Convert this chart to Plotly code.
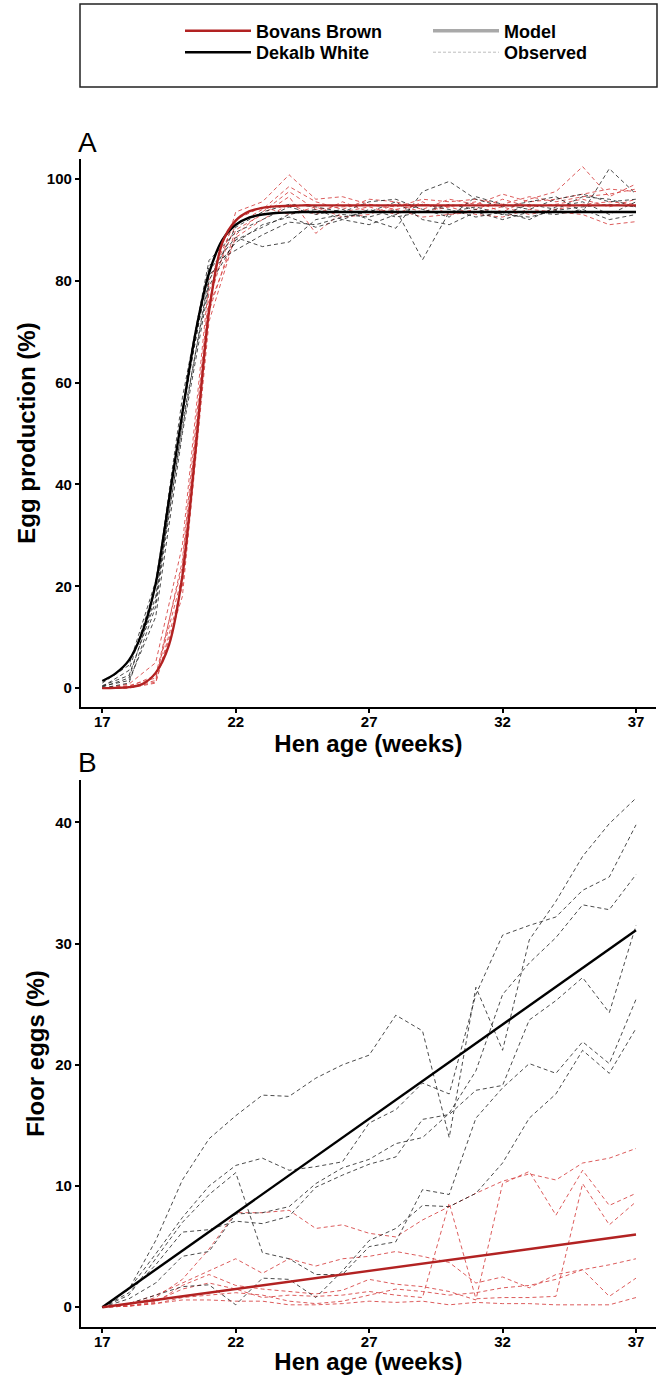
import plotly.graph_objects as go

# ---------------- data ----------------
weeks = [17, 18, 19, 20, 21, 22, 23, 24, 25, 26, 27, 28, 29, 30, 31, 32, 33, 34, 35, 36, 37]

model_weeks = [17.0, 17.5, 18.0, 18.5, 19.0, 19.5, 20.0, 20.5, 21.0, 21.5, 22.0, 22.5, 23.0, 23.5,
               24.0, 24.5, 25.0, 25.5, 26.0, 26.5, 27.0, 27.5, 28.0, 28.5, 29.0, 29.5, 30.0, 30.5,
               31.0, 31.5, 32.0, 32.5, 33.0, 33.5, 34.0, 34.5, 35.0, 35.5, 36.0, 36.5, 37.0]

# Panel A model curves (egg production, %)
egg_model_bovans = [0.0, 0.05, 0.2, 0.8, 3.0, 8.5, 22.0, 47.0, 74.0, 87.5, 91.8, 93.6, 94.3, 94.6,
                    94.7, 94.8, 94.8, 94.8, 94.8, 94.8, 94.8, 94.8, 94.8, 94.8, 94.8, 94.8, 94.8, 94.8,
                    94.8, 94.8, 94.8, 94.8, 94.8, 94.8, 94.8, 94.8, 94.8, 94.8, 94.8, 94.8, 94.8]
egg_model_dekalb = [1.4, 2.9, 5.5, 11.0, 20.5, 37.0, 54.0, 70.0, 81.5, 88.0, 91.0, 92.4, 93.0, 93.3,
                    93.4, 93.5, 93.5, 93.5, 93.5, 93.5, 93.5, 93.5, 93.5, 93.5, 93.5, 93.5, 93.5, 93.5,
                    93.5, 93.5, 93.5, 93.5, 93.5, 93.5, 93.5, 93.5, 93.5, 93.5, 93.5, 93.5, 93.5]

# Panel A observed pens
egg_obs_bovans = [
    [0, 0.5, 2.0, 22, 76, 93.5, 95.5, 100.8, 96.0, 96.5, 95.0, 94.0, 95.0, 94.5, 95.5, 93.5, 96.0, 97.5, 102.4, 96.5, 99.0],
    [0, 0.2, 1.5, 25, 78, 91.0, 94.0, 98.5, 95.5, 94.0, 96.0, 95.5, 94.0, 96.0, 95.0, 97.0, 95.5, 96.0, 97.0, 98.0, 97.5],
    [0, 0.0, 1.0, 20, 74, 90.0, 93.0, 96.5, 89.3, 93.5, 94.5, 93.0, 95.5, 93.0, 94.0, 96.0, 94.5, 95.0, 96.0, 94.5, 96.0],
    [0, 0.8, 5.0, 28, 80, 92.0, 94.5, 93.0, 94.5, 92.5, 93.0, 95.0, 93.5, 94.5, 93.0, 92.5, 94.0, 93.5, 93.0, 91.0, 91.6],
    [0, 0.3, 2.5, 24, 75, 88.5, 92.0, 95.0, 93.0, 95.5, 93.5, 94.0, 92.5, 93.0, 93.5, 94.5, 93.0, 94.0, 95.0, 95.5, 95.0],
    [0, 0.1, 1.2, 18, 72, 89.0, 93.5, 97.5, 94.0, 94.5, 95.0, 94.5, 96.0, 95.5, 96.0, 95.0, 96.5, 95.5, 96.5, 97.0, 98.0],
]
egg_obs_dekalb = [
    [0.5, 2.5, 17, 55, 82, 88.5, 86.7, 87.6, 92.0, 93.0, 92.5, 94.0, 84.1, 93.5, 94.5, 93.0, 92.5, 93.8, 94.5, 95.0, 94.5],
    [0.3, 3.5, 20, 57, 84, 89.5, 92.0, 94.5, 93.0, 94.0, 92.0, 90.3, 97.5, 99.5, 96.0, 94.5, 95.5, 96.5, 93.5, 102.0, 97.0],
    [0.0, 1.0, 16, 52, 80, 90.5, 93.5, 95.0, 94.5, 93.5, 95.5, 96.0, 94.0, 92.5, 96.5, 95.0, 94.0, 96.0, 97.0, 95.5, 96.0],
    [1.0, 4.5, 21, 54, 83, 86.0, 89.0, 91.5, 91.0, 92.5, 93.5, 95.5, 92.0, 91.0, 93.5, 92.0, 93.5, 93.0, 94.0, 92.0, 93.0],
    [0.2, 2.0, 18, 51, 81, 87.5, 91.0, 92.5, 90.5, 92.0, 91.0, 93.0, 95.0, 94.0, 92.5, 93.5, 92.0, 94.5, 95.5, 93.0, 95.5],
    [0.4, 1.5, 14, 50, 79, 88.0, 90.5, 93.0, 94.0, 92.0, 94.0, 92.5, 93.5, 95.0, 94.0, 93.0, 95.0, 94.0, 96.5, 96.0, 94.5],
]

# Panel B model lines (floor eggs, %)
floor_model_weeks = [17, 37]
floor_model_bovans = [0.0, 6.0]
floor_model_dekalb = [0.0, 31.1]

# Panel B observed pens
floor_obs_bovans = [
    [0, 0.2, 0.8, 2.3, 4.8, 7.8, 7.8, 8.0, 6.5, 6.8, 6.1, 5.8, 7.2, 8.3, 9.4, 10.4, 11.0, 10.5, 11.9, 12.3, 13.1],
    [0, 0.3, 1.0, 2.0, 3.0, 4.0, 2.8, 4.0, 3.4, 4.0, 4.2, 4.6, 4.2, 3.7, 2.0, 2.5, 1.6, 2.7, 3.1, 0.9, 2.4],
    [0, 0.1, 0.5, 1.5, 2.0, 1.5, 0.8, 1.0, 0.9, 1.0, 1.3, 1.0, 0.8, 8.6, 0.7, 0.8, 0.8, 0.9, 10.2, 6.8, 8.7],
    [0, 0.1, 0.4, 1.8, 2.7, 1.8, 1.5, 1.3, 1.1, 1.4, 2.3, 1.9, 1.7, 1.3, 0.6, 10.2, 11.2, 7.6, 11.3, 8.4, 9.4],
    [0, 0.1, 0.3, 0.8, 1.0, 1.2, 1.0, 0.5, 0.3, 0.5, 1.0, 1.5, 1.3, 1.0, 1.2, 1.6, 1.8, 2.3, 3.1, 3.5, 4.0],
    [0, 0.1, 0.3, 0.6, 0.6, 0.5, 0.5, 0.2, 0.2, 0.3, 0.5, 0.4, 0.5, 0.2, 0.4, 0.3, 0.3, 0.2, 0.2, 0.2, 0.8],
]
floor_obs_dekalb = [
    [0, 1.5, 5.5, 10.5, 13.9, 15.8, 17.5, 17.4, 18.9, 20.0, 20.8, 24.1, 22.8, 14.0, 26.4, 21.2, 30.3, 33.5, 37.2, 39.9, 42.0],
    [0, 1.5, 4.4, 7.4, 10.0, 11.7, 12.3, 11.3, 11.6, 12.0, 15.2, 16.3, 18.5, 17.6, 25.8, 30.7, 31.5, 32.2, 34.4, 35.5, 39.8],
    [0, 1.2, 3.5, 6.2, 6.4, 7.1, 6.9, 7.5, 9.9, 10.9, 11.8, 12.4, 15.5, 15.9, 17.9, 18.3, 23.7, 25.3, 27.2, 24.3, 31.5],
    [0, 1.0, 4.0, 7.0, 9.3, 11.1, 4.5, 4.0, 2.7, 2.7, 5.0, 5.4, 9.7, 9.3, 15.6, 18.1, 20.1, 19.3, 21.9, 20.1, 25.4],
    [0, 0.3, 1.0, 1.7, 1.85, 0.2, 2.4, 2.3, 0.8, 3.0, 5.5, 6.5, 8.4, 8.3, 9.4, 11.9, 15.6, 17.6, 21.2, 19.3, 23.0],
    [0, 0.7, 2.0, 4.2, 4.6, 7.7, 7.8, 8.3, 10.2, 11.5, 12.2, 13.5, 14.0, 16.0, 19.5, 25.8, 28.4, 30.5, 33.2, 32.8, 35.7],
]

x_ticks = [17, 22, 27, 32, 37]
egg_ticks = [0, 20, 40, 60, 80, 100]
floor_ticks = [0, 10, 20, 30, 40]

# ---------------- styles ----------------
RED = "#B22222"
BLACK = "#000000"
RED_OBS = "rgba(214,64,64,0.85)"
BLACK_OBS = "rgba(30,30,30,0.8)"
DASH = "4px,3px"
FONT = "Liberation Sans, Arial, sans-serif"
W, H = 665, 1375

fig = go.Figure()

def add_obs(xa, ya, series, color):
    for s in series:
        fig.add_trace(go.Scatter(x=weeks, y=s, mode="lines", xaxis=xa, yaxis=ya,
                                 line=dict(color=color, width=1, dash=DASH),
                                 showlegend=False, hoverinfo="skip"))

# Panel A
add_obs("x", "y", egg_obs_bovans, RED_OBS)
add_obs("x", "y", egg_obs_dekalb, BLACK_OBS)
fig.add_trace(go.Scatter(x=model_weeks, y=egg_model_dekalb, mode="lines", xaxis="x", yaxis="y",
                         line=dict(color=BLACK, width=2.4, shape="spline", smoothing=0.8),
                         name="Dekalb White", legend="legend2"))
fig.add_trace(go.Scatter(x=model_weeks, y=egg_model_bovans, mode="lines", xaxis="x", yaxis="y",
                         line=dict(color=RED, width=2.4, shape="spline", smoothing=0.8),
                         name="Bovans Brown", legend="legend"))

# Panel B
add_obs("x2", "y2", floor_obs_bovans, RED_OBS)
add_obs("x2", "y2", floor_obs_dekalb, BLACK_OBS)
fig.add_trace(go.Scatter(x=floor_model_weeks, y=floor_model_dekalb, mode="lines", xaxis="x2", yaxis="y2",
                         line=dict(color=BLACK, width=2.4), showlegend=False))
fig.add_trace(go.Scatter(x=floor_model_weeks, y=floor_model_bovans, mode="lines", xaxis="x2", yaxis="y2",
                         line=dict(color=RED, width=2.4), showlegend=False))

# legend-only entries for line types
fig.add_trace(go.Scatter(x=[None], y=[None], mode="lines", xaxis="x", yaxis="y",
                         line=dict(color="#A9A9A9", width=3.5), name="Model", legend="legend3"))
fig.add_trace(go.Scatter(x=[None], y=[None], mode="lines", xaxis="x", yaxis="y",
                         line=dict(color="#BDBDBD", width=1, dash="3px,2px"), name="Observed",
                         legend="legend4"))

# ---------------- layout ----------------
px_left, px_right = 80.7, 656.0
xdom = [px_left / W, px_right / W]
x_range = [16.19, 37.75]

axis_common = dict(showline=True, linecolor="black", linewidth=1.6, ticks="outside",
                   ticklen=4, tickwidth=1.5, tickcolor="black", showgrid=False, zeroline=False,
                   tickfont=dict(family=FONT, size=15, color="black", weight="bold"), mirror=False)
title_font = dict(family=FONT, size=24, color="black", weight="bold")
legend_font = dict(family=FONT, size=18, color="black", weight="bold")

def legend_box(xpx, ypx):
    return dict(x=xpx / W, xanchor="left", y=1 - ypx / H, yanchor="middle", orientation="v",
                itemwidth=66, bgcolor="rgba(0,0,0,0)", borderwidth=0, font=legend_font)

fig.update_layout(
    width=W, height=H, margin=dict(l=0, r=0, t=0, b=0),
    paper_bgcolor="white", plot_bgcolor="white",
    xaxis=dict(domain=xdom, range=x_range, tickvals=x_ticks, anchor="y", ticklabelstandoff=-4,
               title=dict(text="Hen age (weeks)", font=title_font, standoff=6), **axis_common),
    yaxis=dict(domain=[1 - 707 / H, 1 - 159 / H], range=[-3.7, 103.9], tickvals=egg_ticks, anchor="x",
               title=dict(text="Egg production (%)", font=title_font, standoff=4), **axis_common),
    xaxis2=dict(domain=xdom, range=x_range, tickvals=x_ticks, anchor="y2", ticklabelstandoff=-4,
                title=dict(text="Hen age (weeks)", font=title_font, standoff=6), **axis_common),
    yaxis2=dict(domain=[1 - 1327 / H, 1 - 780 / H], range=[-1.63, 43.5], tickvals=floor_ticks, anchor="x2",
                title=dict(text="Floor eggs (%)", font=title_font, standoff=4), **axis_common),
    legend=legend_box(180, 31),
    legend2=legend_box(180, 52.5),
    legend3=legend_box(428, 31),
    legend4=legend_box(428, 52.5),
    shapes=[dict(type="rect", xref="paper", yref="paper", x0=80 / W, x1=657 / W,
                 y0=1 - 87 / H, y1=1 - 4 / H, line=dict(color="#222222", width=1.5))],
    annotations=[
        dict(text="A", x=76 / W, y=1 - 143 / H, xref="paper", yref="paper", xanchor="left",
             yanchor="middle", showarrow=False, font=dict(family=FONT, size=28, color="black")),
        dict(text="B", x=76 / W, y=1 - 762 / H, xref="paper", yref="paper", xanchor="left",
             yanchor="middle", showarrow=False, font=dict(family=FONT, size=28, color="black")),
    ],
)

fig.write_html("out.html")
